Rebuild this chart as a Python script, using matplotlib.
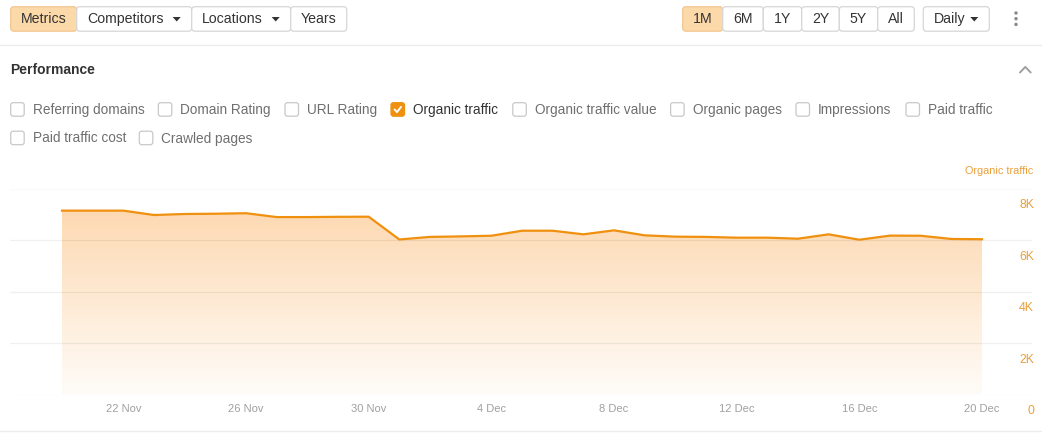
import matplotlib.pyplot as plt
import matplotlib.dates as mdates
import matplotlib.transforms as mtransforms
from matplotlib.patches import FancyBboxPatch, Polygon, Circle
import numpy as np
import pandas as pd

plt.rcParams['font.family'] = ['Liberation Sans', 'DejaVu Sans']

# ---------------------------------------------------------------------------
# data
# ---------------------------------------------------------------------------
dates = pd.date_range('2024-11-20', '2024-12-20', freq='D')
organic_traffic = [7140, 7140, 7140, 6970, 7010, 7020, 7040, 6890, 6890, 6900, 6905,
                   6020, 6120, 6140, 6165, 6360, 6360, 6220, 6375, 6180, 6130,
                   6120, 6090, 6090, 6050, 6220, 6010, 6170, 6165, 6040, 6030]
y_ticks = [0, 2000, 4000, 6000, 8000]
y_tick_labels = ['0', '2K', '4K', '6K', '8K']
x_tick_dates = pd.to_datetime(['2024-11-22', '2024-11-26', '2024-11-30', '2024-12-04',
                               '2024-12-08', '2024-12-12', '2024-12-16', '2024-12-20'])
x_tick_labels = ['22 Nov', '26 Nov', '30 Nov', '4 Dec', '8 Dec', '12 Dec', '16 Dec', '20 Dec']

toolbar_left = ['Metrics', 'Competitors', 'Locations', 'Years']
toolbar_right = ['1M', '6M', '1Y', '2Y', '5Y', 'All']
metrics_row1 = ['Referring domains', 'Domain Rating', 'URL Rating', 'Organic traffic',
                'Organic traffic value', 'Organic pages', 'Impressions', 'Paid traffic']
metrics_row2 = ['Paid traffic cost', 'Crawled pages']
checked_metric = 'Organic traffic'

ORANGE = '#f0900f'
TICK_ORANGE = '#e9a03c'
W, H = 1042, 442

fig = plt.figure(figsize=(W / 100, H / 100), dpi=100)
fig.patch.set_facecolor('white')

# ---------------------------------------------------------------------------
# UI layer in pixel coordinates
# ---------------------------------------------------------------------------
ui = fig.add_axes([0, 0, 1, 1])
ui.set_xlim(0, W)
ui.set_ylim(H, 0)
ui.axis('off')


def button(x0, x1, label, active=False, arrow=False, text_x=None):
    fc = '#fcd9a9' if active else 'white'
    ec = '#f2c793' if active else '#d6d6d6'
    ui.add_patch(FancyBboxPatch((x0, 6.7), x1 - x0, 24.5,
                                boxstyle='round,pad=0,rounding_size=3',
                                fc=fc, ec=ec, lw=0.9, zorder=2))
    if arrow:
        ui.text(text_x, 19, label, fontsize=10.2, color='#333333', va='center', ha='left', zorder=3)
        ax_ = x1 - 15
        ui.add_patch(Polygon([[ax_ - 4, 17], [ax_ + 4, 17], [ax_, 21.5]], closed=True,
                             fc='#333333', ec='none', zorder=3))
    else:
        ui.text((x0 + x1) / 2, 19, label, fontsize=10.2, color='#333333',
                va='center', ha='center', zorder=3)


left_edges = [10.7, 76.7, 191.7, 290.7, 346.7]
button(left_edges[0], left_edges[1], toolbar_left[0], active=True)
button(left_edges[1], left_edges[2], toolbar_left[1], arrow=True, text_x=87.5)
button(left_edges[2], left_edges[3], toolbar_left[2], arrow=True, text_x=202)
button(left_edges[3], left_edges[4], toolbar_left[3])

right_edges = [682.7, 722.7, 763.3, 801.7, 839.3, 877.7, 914.3]
for i, lbl in enumerate(toolbar_right):
    button(right_edges[i], right_edges[i + 1], lbl, active=(i == 0))
button(923.3, 989.3, 'Daily', arrow=True, text_x=934)

for yy in [13, 18.7, 24.4]:
    ui.add_patch(Circle((1016, yy), 1.7, fc='#888888', ec='none'))

ui.axhline(44.5, color='#ececec', lw=1)
ui.axhline(430.5, color='#ececec', lw=1)

ui.text(10.5, 70, 'Performance', fontsize=10, fontweight='bold', color='#333333', va='center')
ui.plot([1020, 1025.3, 1030.7], [72.5, 66.9, 72.5], color='#a0a0a0', lw=1.4,
        solid_capstyle='round', solid_joinstyle='round')


def checkbox(x, y, label, checked=False):
    fc = ORANGE if checked else 'white'
    ec = ORANGE if checked else '#c8c8c8'
    ui.add_patch(FancyBboxPatch((x, y - 6.8), 13.5, 13.5,
                                boxstyle='round,pad=0,rounding_size=2.5',
                                fc=fc, ec=ec, lw=0.9))
    if checked:
        ui.plot([x + 3.6, x + 6, x + 10], [y, y + 2.6, y - 2.6], color='white', lw=1.4,
                solid_capstyle='round', solid_joinstyle='round')
    ui.text(x + 22, y + 0.5, label, fontsize=9.8, va='center', ha='left',
            color='#333333' if checked else '#6f6f6f')


row1_x = [10.7, 158.3, 285, 391, 512.8, 670.6, 796, 906]
for x, lbl in zip(row1_x, metrics_row1):
    checkbox(x, 109.5, lbl, checked=(lbl == checked_metric))
row2_x = [10.7, 139.3]
for x, lbl in zip(row2_x, metrics_row2):
    checkbox(x, 138, lbl)

# ---------------------------------------------------------------------------
# chart
# ---------------------------------------------------------------------------
px_day = (982 - 62) / 30.0
x0_px, x1_px, top_px, bot_px = 10, 1032, 188.5, 394.5
ax = fig.add_axes([x0_px / W, (H - bot_px) / H, (x1_px - x0_px) / W, (bot_px - top_px) / H])
ax.patch.set_alpha(0)

xnum = mdates.date2num(dates)
ax.set_xlim(xnum[0] - (62 - x0_px) / px_day, xnum[-1] + (x1_px - 982) / px_day)
ax.set_ylim(0, 8000)

for v in y_ticks:
    grid_c = (0, 0, 0, 0.025) if v == 8000 else (0, 0, 0, 0.06)
    ax.axhline(v, color=grid_c, lw=0.9, zorder=3)

# gradient area
poly = ax.fill_between(xnum, organic_traffic, 0, color='none', lw=0)
top_c = np.array([253, 217, 178]) / 255
bot_c = np.array([255, 252, 248]) / 255
t = np.linspace(0, 1, 256)[:, None]
grad = (top_c * (1 - t) + bot_c * t)[:, None, :]
im = ax.imshow(grad, extent=[xnum[0], xnum[-1], 0, max(organic_traffic)],
               aspect='auto', origin='upper', zorder=1)
im.set_clip_path(poly.get_paths()[0], transform=ax.transData)

ax.plot(xnum, organic_traffic, color=ORANGE, lw=1.6, zorder=4, solid_joinstyle='round')

for s in ax.spines.values():
    s.set_visible(False)
ax.set_yticks([])
ax.set_xticks(mdates.date2num(x_tick_dates))
ax.set_xticklabels(x_tick_labels, fontsize=8, color='#a0a0a0')
ax.tick_params(axis='x', length=0, pad=7)

trans = mtransforms.offset_copy(ax.get_yaxis_transform(), fig=fig, x=1.5, y=-7.8, units='points')
for v, lbl in zip(y_ticks, y_tick_labels):
    ax.text(1.0, v, lbl, transform=trans, ha='right', va='top', fontsize=8.8, color=TICK_ORANGE)

ui.text(1033, 171.5, 'Organic traffic', fontsize=7.8, color=TICK_ORANGE, ha='right', va='center')

fig.savefig('out.png', dpi=100, facecolor='white')
